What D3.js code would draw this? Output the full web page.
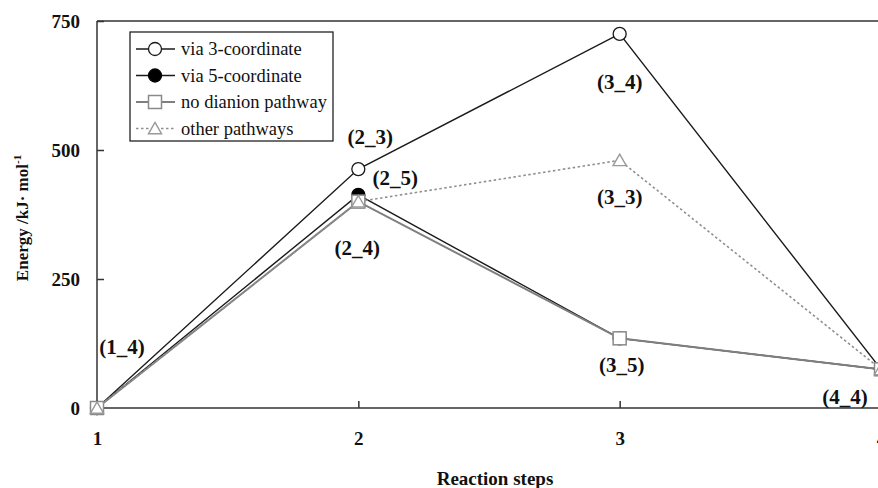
<!DOCTYPE html>
<html>
<head>
<meta charset="utf-8">
<script src="https://cdn.jsdelivr.net/npm/d3@7"></script>
<style>
  html, body { margin: 0; padding: 0; background: #fff; }
  svg { display: block; }
  text { font-family: "Liberation Serif", "Times New Roman", serif; fill: #111; }
</style>
</head>
<body>
<svg id="chart" width="878" height="488"></svg>
<script>
// Reaction steps on the x axis
const steps = [1, 2, 3, 4];
const yTicks = [0, 250, 500, 750];

// Energy (kJ/mol) at each step for each pathway
const via3Coordinate = [0, 463, 725, 75];
const via5Coordinate = [0, 413, 135, 75];
const noDianion = [0, 400, 135, 75];
const otherPathways = [0, 400, 480, 75];

const seriesNames = ["via 3-coordinate", "via 5-coordinate", "no dianion pathway", "other pathways"];

// Intermediate labels, anchored to a step and energy
const pointLabels = ["(1_4)", "(2_3)", "(2_5)", "(2_4)", "(3_4)", "(3_3)", "(3_5)", "(4_4)"];
const labelStep = [1, 2, 2, 2, 3, 3, 3, 4];
const labelEnergy = [0, 463, 413, 400, 725, 480, 135, 75];

const svg = d3.select("#chart");
const plotLeft = 97, plotTop = 21, plotBottom = 408, plotRight = 881;

const x = d3.scaleLinear().domain([1, 4]).range([plotLeft, plotRight]);
const y = d3.scaleLinear().domain([0, 750]).range([plotBottom, plotTop]);

const series = [
  { name: seriesNames[0], values: via3Coordinate, stroke: "#1a1a1a", width: 1.4, dash: null, marker: "circle", fill: "#fff", mstroke: "#1a1a1a" },
  { name: seriesNames[1], values: via5Coordinate, stroke: "#1a1a1a", width: 1.4, dash: null, marker: "circle", fill: "#000", mstroke: "#000" },
  { name: seriesNames[2], values: noDianion, stroke: "#7f7f7f", width: 2, dash: null, marker: "square", fill: "#fff", mstroke: "#8a8a8a" },
  { name: seriesNames[3], values: otherPathways, stroke: "#8f8f8f", width: 1.6, dash: "2.5,2.5", marker: "triangle", fill: "#fff", mstroke: "#9a9a9a" }
];

// Frame around the plot area
const frame = svg.append("g").attr("stroke", "#333").attr("stroke-width", 1.5).attr("fill", "none");
frame.append("line").attr("x1", plotLeft).attr("x2", plotLeft).attr("y1", plotTop).attr("y2", plotBottom);
frame.append("line").attr("x1", plotLeft).attr("x2", plotRight).attr("y1", plotTop).attr("y2", plotTop);
frame.append("line").attr("x1", plotLeft).attr("x2", plotRight).attr("y1", plotBottom).attr("y2", plotBottom);
frame.append("line").attr("x1", plotRight).attr("x2", plotRight).attr("y1", plotTop).attr("y2", plotBottom);

// Axes with inward ticks
const yAxis = d3.axisLeft(y).tickValues(yTicks).tickSize(-7).tickPadding(17);
const gy = svg.append("g").attr("transform", `translate(${plotLeft},0)`).call(yAxis);
gy.select(".domain").remove();
gy.selectAll(".tick line").attr("stroke", "#333").attr("stroke-width", 1.5);
gy.selectAll(".tick text").attr("font-size", 19).attr("font-weight", "bold")
  .attr("font-family", "Liberation Serif, serif").attr("fill", "#111");

const xAxis = d3.axisBottom(x).tickValues(steps).tickSize(-7).tickPadding(24).tickFormat(d3.format("d"));
const gx = svg.append("g").attr("transform", `translate(0,${plotBottom})`).call(xAxis);
gx.select(".domain").remove();
gx.selectAll(".tick line").attr("stroke", "#333").attr("stroke-width", 1.5);
gx.selectAll(".tick text").attr("font-size", 19).attr("font-weight", "bold")
  .attr("font-family", "Liberation Serif, serif").attr("fill", "#111");

// Axis titles
svg.append("text")
  .attr("x", 495).attr("y", 485)
  .attr("text-anchor", "middle")
  .attr("font-size", 19).attr("font-weight", "bold")
  .text("Reaction steps");

const yTitle = svg.append("text")
  .attr("transform", "translate(28,218) rotate(-90)")
  .attr("text-anchor", "middle")
  .attr("font-size", 17).attr("font-weight", "bold");
yTitle.append("tspan").text("Energy /kJ· mol");
yTitle.append("tspan").attr("dy", -7).attr("font-size", 11).text("-1");

// Marker drawing helper
function drawMarker(g, type, cx, cy, s) {
  if (type === "circle") {
    g.append("circle").attr("cx", cx).attr("cy", cy).attr("r", 6.5)
      .attr("fill", s.fill).attr("stroke", s.mstroke).attr("stroke-width", 1.3);
  } else if (type === "square") {
    g.append("rect").attr("x", cx - 6.5).attr("y", cy - 6.5).attr("width", 13).attr("height", 13)
      .attr("fill", s.fill).attr("stroke", s.mstroke).attr("stroke-width", 1.5);
  } else {
    const sym = d3.symbol().type(d3.symbolTriangle).size(75);
    g.append("path").attr("d", sym()).attr("transform", `translate(${cx},${cy + 1.5})`)
      .attr("fill", s.fill).attr("stroke", s.mstroke).attr("stroke-width", 1.4);
  }
}

// Lines and markers
const line = d3.line().x((d, i) => x(steps[i])).y(d => y(d));
const plot = svg.append("g");
series.forEach(s => {
  plot.append("path").datum(s.values).attr("d", line)
    .attr("fill", "none").attr("stroke", s.stroke).attr("stroke-width", s.width)
    .attr("stroke-dasharray", s.dash);
});
series.forEach(s => {
  s.values.forEach((v, i) => drawMarker(plot, s.marker, x(steps[i]), y(v), s));
});

// Intermediate labels, offset from their points
const labelOffsets = [[25, -54], [12, -25], [37, -10], [-1, 53], [0, 55], [0, 44], [2, 34], [-36, 35]];
pointLabels.forEach((t, i) => {
  svg.append("text")
    .attr("x", x(labelStep[i]) + labelOffsets[i][0])
    .attr("y", y(labelEnergy[i]) + labelOffsets[i][1])
    .attr("text-anchor", "middle")
    .attr("font-size", 21).attr("font-weight", "bold").attr("fill", "#14142a")
    .text(t);
});

// Legend
const lg = svg.append("g");
lg.append("rect").attr("x", 130).attr("y", 32).attr("width", 203).attr("height", 109)
  .attr("fill", "#fff").attr("stroke", "#222").attr("stroke-width", 1.3);
series.forEach((s, i) => {
  const cy = 49 + i * 26.5;
  lg.append("line").attr("x1", 136).attr("x2", 175).attr("y1", cy).attr("y2", cy)
    .attr("stroke", s.stroke).attr("stroke-width", s.width).attr("stroke-dasharray", s.dash);
  drawMarker(lg, s.marker, 155, cy, s);
  lg.append("text").attr("x", 181).attr("y", cy + 6)
    .attr("font-size", 18.5).text(s.name);
});
</script>
</body>
</html>
